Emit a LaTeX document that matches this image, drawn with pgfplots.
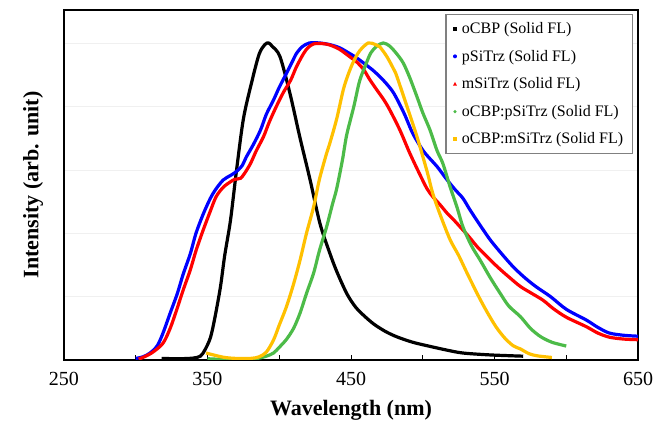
\documentclass[border=0pt]{standalone}
\usepackage{fontspec}
\setmainfont{Liberation Serif}
\usepackage{pgfplots}
\pgfplotsset{compat=1.18}
\definecolor{cgreen}{RGB}{76,187,72}
\definecolor{cyellow}{RGB}{255,192,0}
\begin{document}
\begin{tikzpicture}
\begin{axis}[
 width=574pt, height=350pt, scale only axis,
 xmin=250, xmax=650, ymin=0, ymax=1.104,
 xtick={250,300,...,650},
 xticklabels={250,,350,,450,,550,,650},
 ytick={0.2,0.4,0.6,0.8,1.0},
 yticklabels={},
 ymajorgrids, grid style={black!6, line width=0.5pt},
 major tick length=5pt,
 tick align=inside,
 ytick style={draw=none},
 xtick pos=bottom,
 axis line style={line width=1.2pt},
 xtick style={black, line width=0.8pt},
 /pgf/number format/assume math mode=true,
 ticklabel style={font=\fontsize{20}{24}\selectfont},
 xticklabel style={yshift=-9pt},
 xlabel={Wavelength (nm)},
 ylabel={Intensity (arb. unit)},
 xlabel style={font=\fontsize{22}{26}\selectfont\bfseries, at={(axis description cs:0.5,-0.145)}, anchor=center},
 ylabel style={font=\fontsize{22}{26}\selectfont\bfseries, at={(axis description cs:-0.054,0.5)}, anchor=center},
 legend style={at={(0.991,0.989)}, anchor=north east, draw=gray, line width=1.2pt,
   font=\fontsize{16}{19}\selectfont, row sep=11pt, column sep=3pt, inner xsep=7pt, inner ysep=6pt,
   cells={anchor=west}},
 legend cell align=left,
]
\coordinate (sw) at (rel axis cs:0,0);
\coordinate (ne) at (rel axis cs:1,1);

% oCBP
\addplot[black, line width=3.2pt, no marks, smooth, tension=0.5, legend image code/.code={\fill[black, draw=none, line width=0pt] (1.1pt,-1.8pt) rectangle (4.7pt,1.8pt);}] coordinates {
(318,0.005) (330,0.004) (340,0.006) (345,0.012) (348,0.03) (352,0.07) (355,0.13)
(359,0.23) (362,0.33) (366,0.44) (370,0.59) (375,0.76) (381,0.88) (386,0.965)
(390,0.995) (392.5,1.0) (395,0.99) (400.5,0.957) (407.5,0.84) (414.5,0.70)
(421.4,0.57) (428.4,0.43) (435,0.34) (440,0.28) (447,0.21) (453,0.168) (459,0.14)
(466,0.113) (474,0.09) (482,0.073) (493,0.056) (505,0.043) (517,0.031) (528,0.022)
(547,0.016) (570,0.012)
};
\addlegendentry{oCBP (Solid FL)}

% pSiTrz
\addplot[blue, line width=3.2pt, no marks, smooth, tension=0.5, legend image code/.code={\fill[blue, draw=none, line width=0pt] (2.9pt,0pt) circle (2pt);}] coordinates {
(300,0.005) (305,0.01) (310,0.022) (315,0.045) (319,0.085) (324,0.148) (329,0.21)
(333,0.27) (338,0.335) (342,0.40) (347,0.46) (352,0.51) (356,0.54) (361,0.568)
(366,0.582) (370,0.594) (374,0.612) (377,0.64) (382,0.68) (387,0.726) (391,0.775)
(396,0.82) (400,0.86) (405,0.904) (409,0.94) (412,0.967) (416,0.988) (421,1.0)
(428,1.0) (435,0.995) (442,0.985) (449,0.967) (454,0.953) (459,0.936) (465,0.915)
(470,0.894) (475,0.87) (480,0.84) (487,0.778) (493,0.715) (500,0.662) (505,0.635)
(510,0.61) (517,0.568) (523,0.535) (528,0.51) (533,0.473) (540,0.425) (547,0.379)
(555,0.335) (563,0.294) (571,0.26) (579,0.231) (589,0.20) (600,0.16) (614,0.126)
(622,0.103) (630,0.085) (640,0.078) (650,0.075)
};
\addlegendentry{pSiTrz (Solid FL)}

% mSiTrz
\addplot[red, line width=3.2pt, no marks, smooth, tension=0.5, legend image code/.code={\fill[red, draw=none, line width=0pt] (0.9pt,-1.7pt) -- (4.9pt,-1.7pt) -- (2.9pt,2pt) -- cycle;}] coordinates {
(302,0.003) (306,0.01) (312,0.025) (319,0.053) (324,0.10) (328.5,0.158) (333,0.22)
(338,0.284) (342,0.345) (347,0.41) (352,0.47) (356,0.515) (361,0.545) (366,0.562)
(369,0.57) (373,0.573) (376,0.59) (380,0.62) (384,0.66) (389,0.704) (393,0.75)
(398,0.80) (403,0.845) (408,0.883) (412,0.925) (417,0.967) (420,0.985) (424,0.997)
(430,0.998) (435,0.994) (442,0.98) (449,0.957) (454,0.94) (459,0.915) (463,0.885)
(468,0.852) (473,0.82) (477,0.789) (484,0.726) (491,0.652) (498,0.585) (503,0.54)
(507,0.515) (512,0.49) (517,0.463) (522,0.44) (526,0.42) (532,0.39) (538,0.357)
(545,0.325) (552,0.294) (560,0.262) (568,0.232) (576,0.21) (584,0.188) (591,0.162)
(600,0.135) (614,0.105) (622,0.085) (630,0.072) (640,0.066) (650,0.064)
};
\addlegendentry{mSiTrz (Solid FL)}

% oCBP:pSiTrz
\addplot[cgreen, line width=3.2pt, no marks, smooth, tension=0.5, legend image code/.code={\fill[cgreen, draw=none, line width=0pt] (2.9pt,0pt) circle (1.7pt);}] coordinates {
(350,0.004) (360,0.002) (370,0.002) (380,0.003) (386,0.006) (391,0.012) (396,0.022)
(400,0.04) (405,0.065) (410,0.10) (414.5,0.148) (419,0.21) (424,0.275) (428,0.345)
(433,0.42) (437,0.49) (440,0.54) (444,0.63) (447,0.71) (452,0.80) (456,0.88)
(461,0.94) (464,0.97) (468,0.99) (472.5,1.0) (477,0.99) (482,0.965) (486.5,0.936)
(491,0.89) (496,0.83) (500,0.78) (505,0.726) (510,0.66) (514,0.62) (519,0.547)
(524,0.48) (528,0.42) (534,0.36) (540,0.315) (547,0.26) (554,0.21) (560,0.17)
(568,0.137) (575,0.10) (582,0.074) (590,0.056) (600,0.044)
};
\addlegendentry{oCBP:pSiTrz (Solid FL)}

% oCBP:mSiTrz
\addplot[cyellow, line width=3.2pt, no marks, smooth, tension=0.5, legend image code/.code={\fill[cyellow, draw=none, line width=0pt] (1.1pt,-1.8pt) rectangle (4.7pt,1.8pt);}] coordinates {
(349,0.022) (355,0.015) (362,0.008) (370,0.005) (380,0.005) (386,0.01) (391,0.025)
(396,0.063) (400,0.11) (405,0.168) (410,0.24) (414.5,0.315) (419,0.40) (424,0.484)
(428,0.57) (433,0.652) (435,0.68) (440,0.76) (444.6,0.852) (448,0.90) (451.6,0.94)
(456,0.975) (462,1.0) (467,0.995) (470,0.988) (475,0.957) (480,0.915) (482,0.894)
(489,0.80) (496,0.704) (503,0.595) (507,0.525) (512,0.46) (519,0.38) (525,0.33)
(531,0.273) (539,0.20) (545,0.15) (551,0.105) (557,0.07) (563,0.045) (568,0.035)
(574,0.02) (580,0.013) (590,0.008)
};
\addlegendentry{oCBP:mSiTrz (Solid FL)}
\end{axis}
\pgfresetboundingbox
\path ([xshift=-64pt,yshift=-65pt]sw) rectangle ([xshift=16pt,yshift=10pt]ne);
\end{tikzpicture}
\end{document}
